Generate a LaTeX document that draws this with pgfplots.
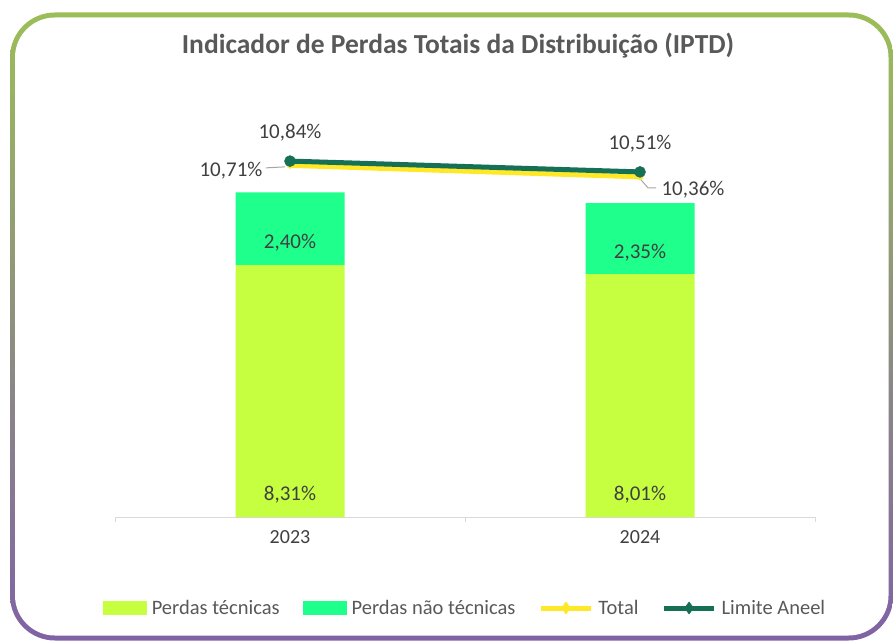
\documentclass[border=0pt]{standalone}
\usepackage{fontspec}
\setmainfont{Carlito}
\usepackage{pgfplots}
\pgfplotsset{compat=1.18}
\usepackage{pgfplotstable}

\definecolor{tecnicas}{RGB}{198,255,64}
\definecolor{naotecnicas}{RGB}{30,255,140}
\definecolor{totalc}{RGB}{255,232,40}
\definecolor{limite}{RGB}{22,112,86}
\definecolor{txt}{RGB}{64,64,64}
\definecolor{titlec}{RGB}{89,89,89}
\definecolor{axisc}{RGB}{217,217,217}
\definecolor{leader}{RGB}{166,166,166}
\definecolor{bordtop}{RGB}{155,190,88}
\definecolor{bordbot}{RGB}{128,98,165}

% Perdas (% da energia injetada)
\pgfplotstableread{
x tec naotec total limite
0 8.31 2.40 10.71 10.84
1 8.01 2.35 10.36 10.51
}\iptd

\tikzset{
  lbl/.style={font=\fontsize{21}{24}\selectfont, text=txt},
  tck/.style={font=\fontsize{20}{24}\selectfont, text=txt},
}

\pgfplotsset{
  /pgf/number format/assume math mode=true,
  /pgf/number format/use comma,
  /pgf/number format/fixed,
  /pgf/number format/fixed zerofill,
  /pgf/number format/precision=2,
  iptd/.style={
    at={(115pt,124pt)}, anchor=south west,
    width=700pt, height=394pt, scale only axis,
    xmin=-0.5, xmax=1.5, ymin=0, clip=false,
  },
  barleg/.style={legend image code/.code={\fill[##1] (0pt,-7pt) rectangle (44pt,7pt);}},
  lineleg/.style={legend image code/.code={
    \draw[##1, mark=none] (0pt,0pt) -- (50pt,0pt);
    \path[##1, mark=diamond*, mark size=6pt] plot coordinates {(25pt,0pt)};}},
}

\begin{document}
\begin{tikzpicture}[x=1pt,y=1pt]
\useasboundingbox (0,0) rectangle (893,641);
% moldura com borda em degradê
\shade[top color=bordtop, bottom color=bordbot, rounded corners=45pt]
  (10,0.5) rectangle (893.5,628.5);
\fill[white, rounded corners=40pt] (15,5.5) rectangle (888.5,623.5);
\node[font=\fontsize{27.5}{32}\selectfont\bfseries, text=titlec] at (458,595)
  {Indicador de Perdas Totais da Distribuição (IPTD)};

% barras empilhadas
\begin{axis}[iptd, ymax=13, ybar stacked, bar width=109pt,
  axis y line=none, axis x line*=bottom,
  x axis line style={draw=axisc, line width=1pt, -},
  xtick={0,1}, xticklabels={2023,2024}, major tick length=0pt,
  extra x ticks={-0.5,0.5,1.5}, extra x tick labels={},
  extra x tick style={major tick length=5pt, tick align=outside,
    tick style={draw=axisc, line width=1pt}},
  xticklabel style={tck, yshift=-10pt},
]
\addplot[fill=tecnicas, draw=none] table[x=x, y=tec]{\iptd};
\addplot[fill=naotecnicas, draw=none] table[x=x, y=naotec]{\iptd};
\end{axis}

% rótulos das barras (na base de cada segmento)
\begin{axis}[iptd, ymax=13, hide axis,
  nodes near coords={\pgfmathprintnumber{\pgfplotspointmeta}\%},
  every node near coord/.append style={lbl, anchor=center, yshift=22pt},
]
\addplot[draw=none, mark=none, point meta=\thisrow{tec}]
  table[x=x, y expr=0]{\iptd};
\addplot[draw=none, mark=none, point meta=\thisrow{naotec}]
  table[x=x, y=tec]{\iptd};
\end{axis}

% linhas no eixo secundário
\begin{axis}[iptd, ymax=12, hide axis,
  legend columns=4, legend cell align=left,
  legend style={at={(0.5,-0.231)}, anchor=center, draw=none, fill=none,
    font=\fontsize{20.5}{24}\selectfont, text=titlec,
    /tikz/every odd column/.append style={column sep=3pt},
    /tikz/every even column/.append style={column sep=21pt}},
]
\addlegendimage{fill=tecnicas, draw=none, barleg}
\addlegendentry{Perdas técnicas}
\addlegendimage{fill=naotecnicas, draw=none, barleg}
\addlegendentry{Perdas não técnicas}

\addplot[totalc, line width=5pt, mark=*, mark size=3pt,
  mark options={line width=0.5pt, fill=totalc}, lineleg,
  nodes near coords={\pgfmathprintnumber{\pgfplotspointmeta}\%},
  visualization depends on={value \coordindex \as \idx},
  every node near coord/.append style={lbl, anchor=center,
    xshift={(\idx==0)*(-59)+(\idx==1)*53},
    yshift={(\idx==0)*(-5)+(\idx==1)*(-13)}},
] table[x=x, y=total]{\iptd};
\addlegendentry{Total}

\addplot[limite, line width=5pt, mark=*, mark size=5.5pt,
  mark options={line width=0.5pt, fill=limite}, lineleg,
  nodes near coords={\pgfmathprintnumber{\pgfplotspointmeta}\%},
  every node near coord/.append style={lbl, anchor=center, yshift=28pt},
] table[x=x, y=limite]{\iptd};
\addlegendentry{Limite Aneel}

% linhas de chamada dos rótulos do Total
\draw[leader, line width=1pt] (axis cs:0,10.71) ++(-5pt,-1.5pt) -- ++(-19pt,-1pt);
\draw[leader, line width=1pt] (axis cs:1,10.36) ++(1pt,-3pt) -- ++(7pt,-8pt) -- ++(8pt,0pt);
\end{axis}
\end{tikzpicture}
\end{document}
